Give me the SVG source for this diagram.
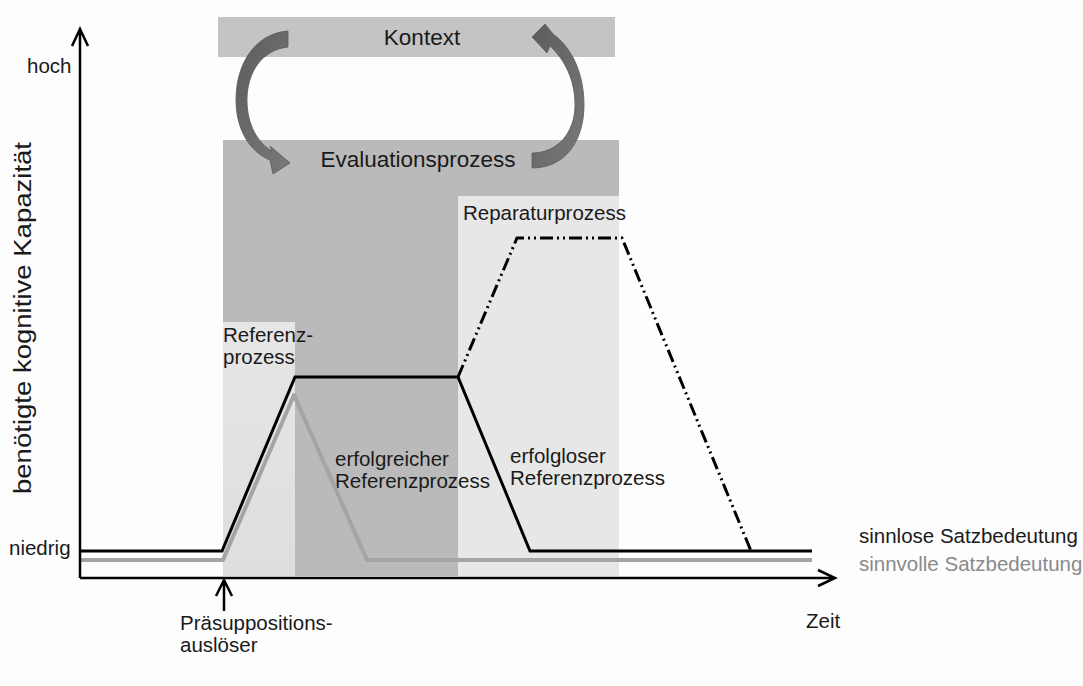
<svg xmlns="http://www.w3.org/2000/svg" width="1083" height="686" viewBox="0 0 1083 686">
<defs>
<style>
text{font-family:"Liberation Sans",Arial,sans-serif;fill:#1a1a1a}
.t{font-size:20.5px}
.big{font-size:22.5px}
.ax{fill:none;stroke:#000;stroke-width:2.5}
.arrow{fill:url(#ag);stroke:#5a5a5a;stroke-width:0.8}
</style>
<linearGradient id="ag" x1="0" y1="0" x2="1" y2="1">
<stop offset="0" stop-color="#5c5c5c"/>
<stop offset="1" stop-color="#7a7a7a"/>
</linearGradient>
<linearGradient id="rg" x1="0" y1="0" x2="0" y2="1">
<stop offset="0" stop-color="#e6e6e6"/>
<stop offset="1" stop-color="#dedede"/>
</linearGradient>
</defs>
<rect width="1083" height="686" fill="#fdfdfd"/>

<g id="kontext">
<rect x="218" y="17" width="397" height="40" fill="#c4c4c4"/>
<text class="big" x="422" y="45" text-anchor="middle">Kontext</text>
</g>
<g id="evaluationsprozess">
<rect x="223" y="140" width="396" height="436" fill="#bababa"/>
<text class="big" x="418" y="167" text-anchor="middle">Evaluationsprozess</text>
</g>
<g id="reparaturprozess">
<rect x="458" y="196" width="161" height="380" fill="#e7e7e7"/>
<text class="t" x="463" y="220">Reparaturprozess</text>
</g>
<g id="referenzprozess">
<rect x="223" y="322" width="72" height="254" fill="url(#rg)"/>
<text class="t" x="223" y="342">Referenz-</text>
<text class="t" x="223" y="364">prozess</text>
</g>
<g id="erfolgreich">
<text class="t" x="335" y="466">erfolgreicher</text>
<text class="t" x="335" y="488">Referenzprozess</text>
</g>
<g id="erfolglos">
<text class="t" x="510" y="463">erfolgloser</text>
<text class="t" x="510" y="485">Referenzprozess</text>
</g>

<g id="kreislauf">
<path class="arrow" d="M288 31 L288 47 C262 50 247 72 247 100 C247 125 258 143 272 151 L270 146 L290 163 L273 174 L270 160 C250 152 236 130 236 100 C236 60 258 33 288 31 Z"/>
<path class="arrow" d="M532 168 C566 168 584 140 584 105 C584 72 571 47 553 34 L545 24 L532 37 L547 53 L550 46 C565 60 575 80 575 105 C575 132 558 153 532 153 Z"/>
</g>

<g id="connectors">
<path d="M80 560 L223 560 L294 395 L367 560 L812 560" fill="none" stroke="#a4a4a4" stroke-width="4" stroke-linejoin="round"/>
<path d="M80 551 L222 551 L295 377 L458 377 L530 551 L812 551" fill="none" stroke="#000" stroke-width="3"/>
<path d="M458 377 L517 238 L622 238 L751 551" fill="none" stroke="#000" stroke-width="3" stroke-dasharray="13 4 2 4 2 4"/>
<path class="ax" d="M80 578 L80 30 M72 46 L80 29 L88 46"/>
<path class="ax" d="M80 578 L834 578 M818 570 L835 578 L818 586"/>
<path class="ax" d="M224 611 L224 581 M216 596 L224 580 L232 596"/>
</g>

<g id="achsen-beschriftung">
<text class="t" x="27" y="73">hoch</text>
<text class="t" x="9" y="555">niedrig</text>
<text class="t" x="806" y="628">Zeit</text>
<text x="0" y="0" font-size="23" textLength="352" lengthAdjust="spacingAndGlyphs" text-anchor="middle" transform="translate(31 318) rotate(-90)">benötigte kognitive Kapazität</text>
<text class="t" x="180" y="630">Präsuppositions-</text>
<text class="t" x="180" y="652">auslöser</text>
</g>

<g id="legende">
<text class="t" x="859" y="543">sinnlose Satzbedeutung</text>
<text class="t" x="859" y="571" style="fill:#8a8a8a">sinnvolle Satzbedeutung</text>
</g>
</svg>
